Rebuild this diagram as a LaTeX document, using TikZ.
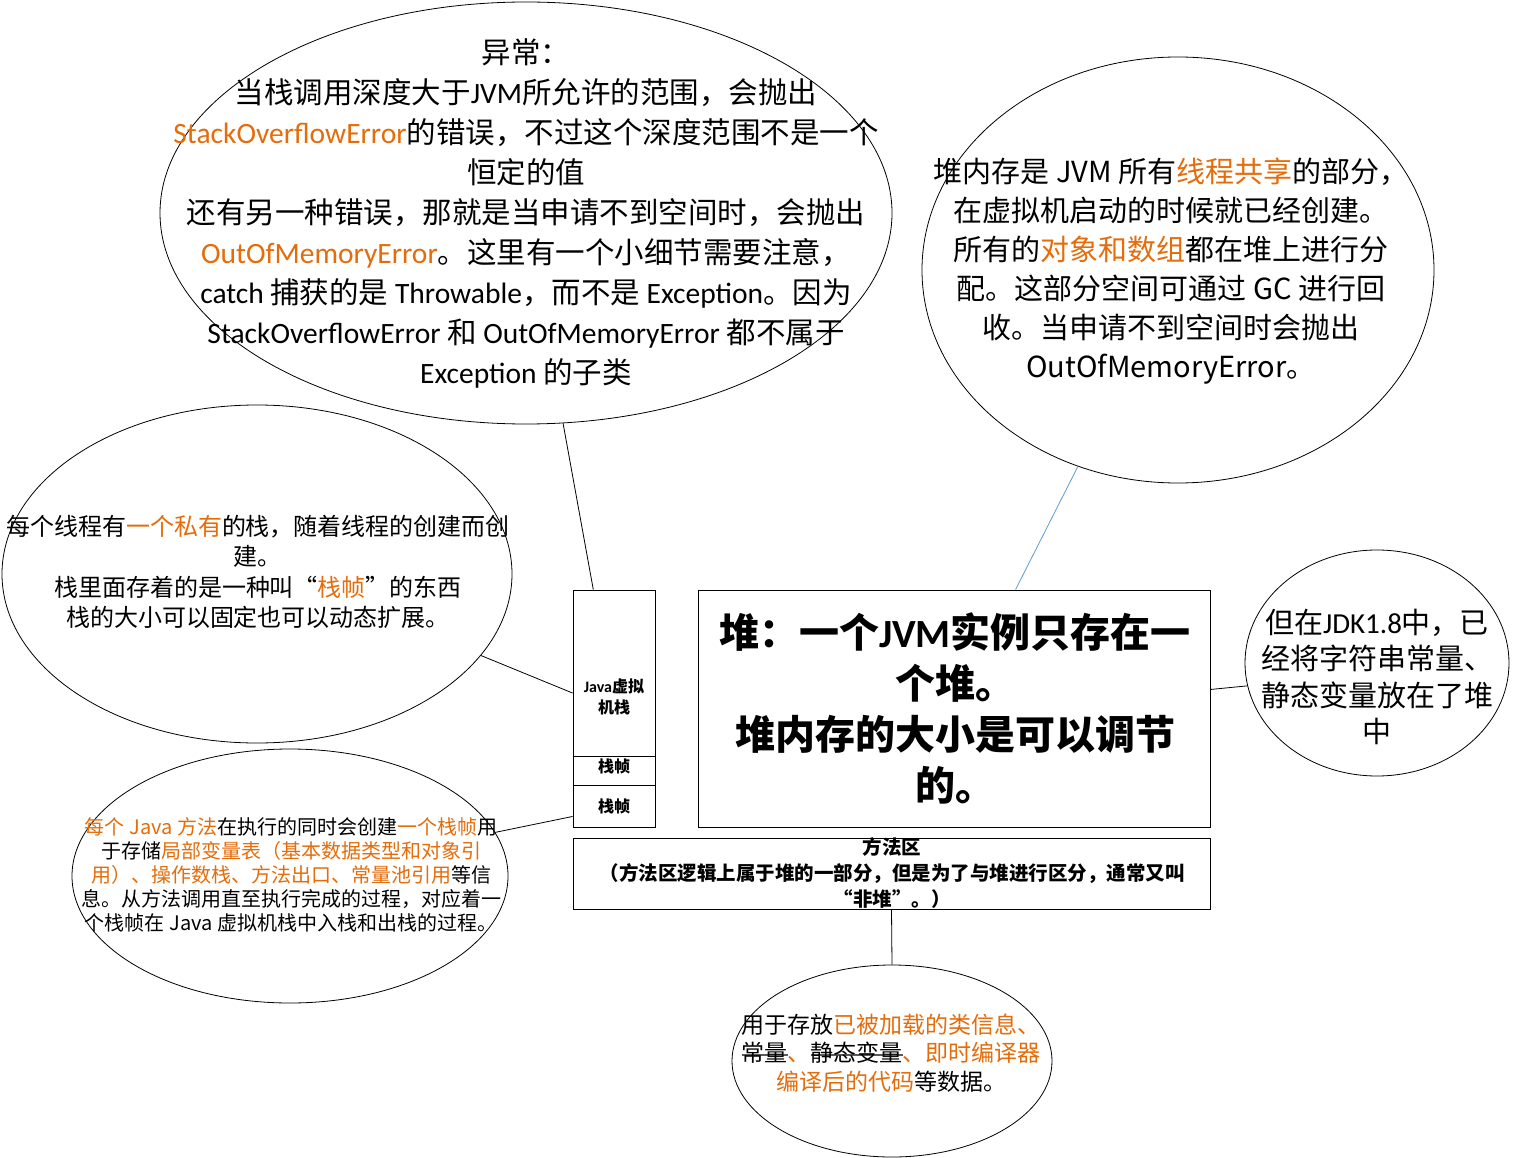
\documentclass[tikz,border=0pt]{standalone}
\usepackage{fontspec}
\setmainfont{Noto Sans CJK SC}
\newfontfamily\lat{Carlito}
\usetikzlibrary{shapes.geometric,calc}
\definecolor{orng}{RGB}{228,108,10}
\definecolor{lblue}{RGB}{91,155,213}
\definecolor{strk}{RGB}{90,90,90}
\newcommand\en[1]{{\lat #1}}
\newcommand\og[1]{\textcolor{orng}{#1}}
\newcommand\mystrike[1]{\leavevmode\setbox0=\hbox{#1}\rlap{\textcolor{strk}{\vrule height 7.6pt depth -6.0pt width \wd0}}\box0}
\begin{document}
\begin{tikzpicture}[x=1pt,y=-1pt,line width=0.8pt,
  bubble/.style={draw, ellipse, inner sep=0pt},
  txt/.style={align=center, inner sep=0pt},
  box/.style={draw, rectangle, inner sep=0pt},
  link/.style={draw=black, line width=0.8pt}]
\useasboundingbox (0,0) rectangle (1513,1158);
% ellipses
\node[bubble, minimum width=732pt, minimum height=422pt] (e1) at (526,213) {};
\node[bubble, minimum width=512pt, minimum height=426pt] (e2) at (1178,270) {};
\node[bubble, minimum width=510pt, minimum height=338pt] (e3) at (257,574) {};
\node[bubble, minimum width=436pt, minimum height=254pt] (e4) at (290,876) {};
\node[bubble, minimum width=264pt, minimum height=226pt] (e5) at (1377,663) {};
\node[bubble, minimum width=320pt, minimum height=192pt] (e6) at (892,1061) {};
% boxes
\node[box, minimum width=82pt, minimum height=237pt] (stack) at (614,708.5) {};
\node[box, minimum width=82pt, minimum height=29pt] (sf1) at (614,770.5) {};
\node[box, minimum width=82pt, minimum height=42pt] (sf2) at (614,806) {};
\node[box, minimum width=512pt, minimum height=237pt] (heap) at (954,708.5) {};
\node[box, minimum width=637pt, minimum height=71pt] (meth) at (891.5,873.5) {};
% texts
\node[txt, font=\fontsize{29.5}{40}\selectfont] (t1) at (526,213) {异常：\\
当栈调用深度大于\en{JVM}所允许的范围，会抛出\\
\og{\en{StackOverflowError}}的错误，不过这个深度范围不是一个\\
恒定的值\\
还有另一种错误，那就是当申请不到空间时，会抛出\\
\og{\en{OutOfMemoryError}}。这里有一个小细节需要注意，\\
\en{catch} 捕获的是 \en{Throwable}，而不是 \en{Exception}。因为\\
\en{StackOverflowError} 和 \en{OutOfMemoryError} 都不属于\\
\en{Exception} 的子类};
\node[txt, font=\fontsize{29}{39}\selectfont] (t2) at (1171,271) {堆内存是 JVM 所有\og{线程共享}的部分，\\
在虚拟机启动的时候就已经创建。\\
所有的\og{对象和数组}都在堆上进行分\\
配。这部分空间可通过 GC 进行回\\
收。当申请不到空间时会抛出\\
OutOfMemoryError。};
\node[txt, font=\fontsize{24}{30.5}\selectfont] (t3) at (258,572) {每个线程有\og{一个私有}的栈，随着线程的创建而创\\
建。\\
栈里面存着的是一种叫“\og{栈帧}”的东西\\
栈的大小可以固定也可以动态扩展。};
\node[txt, font=\fontsize{20}{24}\selectfont] (t4) at (291,875) {\og{每个 Java 方法}在执行的同时会创建\og{一个栈帧}用\\
于存储\og{局部变量表（基本数据类型和对象引}\\
\og{用）、操作数栈、方法出口、常量池引用}等信\\
息。从方法调用直至执行完成的过程，对应着一\\
个栈帧在 Java 虚拟机栈中入栈和出栈的过程。};
\node[txt, font=\fontsize{40}{51}\selectfont\bfseries] (t5) at (955,708) {堆：一个\en{JVM}实例只存在一\\
个堆。\\
堆内存的大小是可以调节\\
的。};
\node[txt, font=\fontsize{29}{36.5}\selectfont] (t6) at (1377,677) {但在\en{JDK1.8}中，已\\
经将字符串常量、\\
静态变量放在了堆\\
中};
\node[txt, font=\fontsize{23}{28.5}\selectfont] (t7) at (891,1053) {用于存放\og{已被加载的类信息、}\\
\mystrike{常量}\og{、}\mystrike{静态变量}\og{、即时编译器}\\
\og{编译后的代码}等数据。};
\node[txt, font=\fontsize{19.5}{26}\selectfont\bfseries] (t8) at (892,873) {方法区\\
（方法区逻辑上属于堆的一部分，但是为了与堆进行区分，通常又叫\\
“非堆”。）};
\node[txt, font=\fontsize{16}{21}\selectfont\bfseries] (t9) at (614,697) {\en{Java}虚拟\\机栈};
\node[txt, font=\fontsize{16}{21}\selectfont\bfseries] (t10) at (614,766) {栈帧};
\node[txt, font=\fontsize{16}{21}\selectfont\bfseries] (t11) at (614,806) {栈帧};
% connectors
\draw[link] (e1.-80) -- ($(stack.north west)!0.25!(stack.north east)$);
\draw[link, draw=lblue] (e2.-117) -- ($(heap.north west)!0.62!(heap.north east)$);
\draw[link] (e3.-20.4) -- ($(stack.north west)!0.435!(stack.south west)$);
\draw[link] (e4.12) -- ($(stack.north west)!0.954!(stack.south west)$);
\draw[link] ($(heap.north east)!0.42!(heap.south east)$) -- (e5.190);
\draw[link] (meth.south) -- (e6.north);
\end{tikzpicture}
\end{document}
